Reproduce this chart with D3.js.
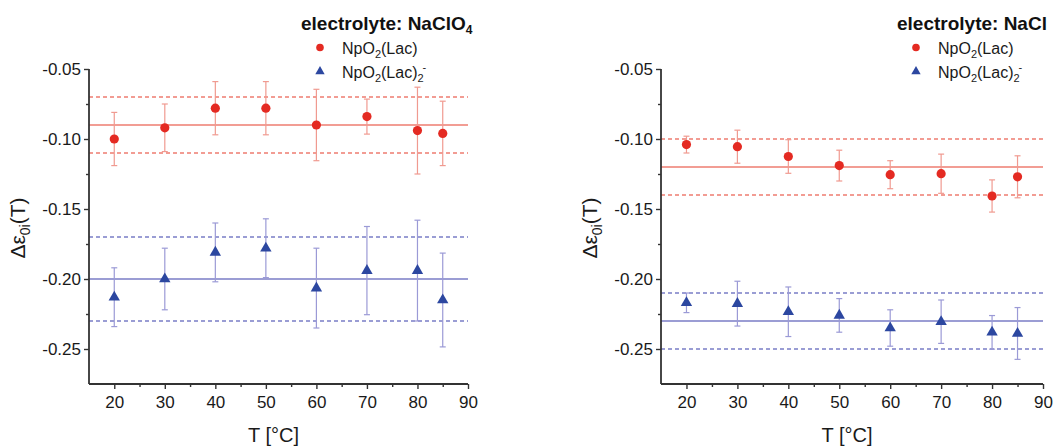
<!DOCTYPE html>
<html>
<head>
<meta charset="utf-8">
<script src="https://cdn.jsdelivr.net/npm/d3@7"></script>
<style>
  body { margin: 0; background: #fff; }
  svg { display: block; font-family: "Liberation Sans", Arial, sans-serif; }
</style>
</head>
<body>
<svg id="chart" width="1058" height="446"></svg>
<script>
// Temperatures (°C) of the measurements
const temperatures = [20, 30, 40, 50, 60, 70, 80, 85];
const xTicks = [20, 30, 40, 50, 60, 70, 80, 90];
const xMinorTicks = [25, 35, 45, 55, 65, 75, 85];
const yTicks = [-0.25, -0.20, -0.15, -0.10, -0.05];
const yMinorTicks = [-0.225, -0.175, -0.125, -0.075];

// electrolyte: NaClO4
const clo4Mono = [-0.100, -0.092, -0.078, -0.078, -0.090, -0.084, -0.094, -0.096];
const clo4MonoErr = [0.019, 0.017, 0.019, 0.019, 0.0255, 0.0125, 0.031, 0.023];
const clo4Bis = [-0.213, -0.200, -0.181, -0.178, -0.2065, -0.194, -0.194, -0.215];
const clo4BisErr = [0.021, 0.022, 0.021, 0.021, 0.0285, 0.0315, 0.036, 0.0335];
const clo4MonoMean = -0.09, clo4MonoBand = 0.02;
const clo4BisMean = -0.20, clo4BisBand = 0.03;

// electrolyte: NaCl
const clMono = [-0.104, -0.1055, -0.1125, -0.119, -0.1255, -0.1248, -0.1407, -0.127];
const clMonoErr = [0.006, 0.0118, 0.012, 0.011, 0.010, 0.014, 0.0115, 0.015];
const clBis = [-0.217, -0.2176, -0.2234, -0.226, -0.235, -0.2305, -0.2381, -0.2389];
const clBisErr = [0.007, 0.016, 0.0177, 0.012, 0.013, 0.0155, 0.012, 0.0185];
const clMonoMean = -0.12, clMonoBand = 0.02;
const clBisMean = -0.23, clBisBand = 0.02;

const xDomain = [15, 90];
const yDomain = [-0.275, -0.05];

const RED = "#e42a22", RED_LINE = "#ee7c70", RED_ERR = "#f09a90";
const BLUE = "#2c47a0", BLUE_LINE = "#7a7dc6", BLUE_ERR = "#9b9ad6";
const AXIS = "#333333";

const svg = d3.select("#chart");

function drawPanel(p) {
  const x = d3.scaleLinear().domain(xDomain).range([p.left, p.right]);
  const y = d3.scaleLinear().domain(yDomain).range([384, 69]);
  const g = svg.append("g");

  // reference lines: mean (solid) and ± band (dashed)
  const refs = [
    { v: p.monoMean, c: RED_LINE, dash: null },
    { v: p.monoMean + p.monoBand, c: RED_LINE, dash: "4,3" },
    { v: p.monoMean - p.monoBand, c: RED_LINE, dash: "4,3" },
    { v: p.bisMean, c: BLUE_LINE, dash: null },
    { v: p.bisMean + p.bisBand, c: BLUE_LINE, dash: "4,3" },
    { v: p.bisMean - p.bisBand, c: BLUE_LINE, dash: "4,3" }
  ];
  g.selectAll("line.ref").data(refs).enter().append("line")
    .attr("x1", x(xDomain[0])).attr("x2", x(xDomain[1]))
    .attr("y1", d => y(d.v)).attr("y2", d => y(d.v))
    .attr("stroke", d => d.c).attr("stroke-width", 1.5)
    .attr("stroke-dasharray", d => d.dash);

  // error bars
  function errBars(vals, errs, color) {
    const d = temperatures.map((t, i) => ({ t, v: vals[i], e: errs[i] }));
    const eg = g.append("g").attr("stroke", color).attr("stroke-width", 1.2);
    eg.selectAll("line.v").data(d).enter().append("line")
      .attr("x1", d => x(d.t)).attr("x2", d => x(d.t))
      .attr("y1", d => y(d.v + d.e)).attr("y2", d => y(d.v - d.e));
    ["+", "-"].forEach(s => {
      eg.selectAll("line.c" + (s === "+" ? "t" : "b")).data(d).enter().append("line")
        .attr("x1", d => x(d.t) - 3).attr("x2", d => x(d.t) + 3)
        .attr("y1", d => y(s === "+" ? d.v + d.e : d.v - d.e))
        .attr("y2", d => y(s === "+" ? d.v + d.e : d.v - d.e));
    });
    return d;
  }
  const mono = errBars(p.mono, p.monoErr, RED_ERR);
  const bis = errBars(p.bis, p.bisErr, BLUE_ERR);

  g.selectAll("circle.pt").data(mono).enter().append("circle")
    .attr("cx", d => x(d.t)).attr("cy", d => y(d.v)).attr("r", 4.6)
    .attr("fill", RED);
  const tri = d3.symbol().type(d3.symbolTriangle).size(56);
  g.selectAll("path.pt").data(bis).enter().append("path")
    .attr("transform", d => `translate(${x(d.t)},${y(d.v)})`)
    .attr("d", tri).attr("fill", BLUE);

  // axes
  const xAxis = g.append("g").attr("transform", "translate(0,384)")
    .call(d3.axisBottom(x).tickValues(xTicks).tickSize(5).tickPadding(7).tickFormat(d3.format("d")));
  g.append("g").attr("transform", "translate(0,384)")
    .call(d3.axisBottom(x).tickValues(xMinorTicks).tickSize(3).tickFormat(""))
    .call(a => a.select(".domain").remove());
  const yAxis = g.append("g").attr("transform", `translate(${p.left},0)`)
    .call(d3.axisLeft(y).tickValues(yTicks).tickSize(5).tickPadding(3).tickFormat(d => d.toFixed(2)));
  g.append("g").attr("transform", `translate(${p.left},0)`)
    .call(d3.axisLeft(y).tickValues(yMinorTicks).tickSize(3).tickFormat(""))
    .call(a => a.select(".domain").remove());
  g.selectAll(".domain").attr("stroke", AXIS).attr("stroke-width", 1.8);
  g.selectAll(".tick line").attr("stroke", AXIS).attr("stroke-width", 1.4);
  g.selectAll(".tick text").attr("fill", "#1a1a1a").style("font-size", "17px")
    .style("font-family", "'Liberation Sans', Arial, sans-serif");
  // keep the axis lines square, without end ticks
  xAxis.select(".domain").attr("d", `M${p.left},0H${p.right}`);
  yAxis.select(".domain").attr("d", `M0,${y(yDomain[1])}V384`);

  // axis titles
  g.append("text").attr("x", (p.left + p.right) / 2 - 5).attr("y", 442)
    .attr("text-anchor", "middle").attr("fill", "#1a1a1a").style("font-size", "20px")
    .text("T [°C]");
  const yt = g.append("text")
    .attr("transform", `translate(${p.left - 64},228) rotate(-90)`)
    .attr("text-anchor", "middle").attr("fill", "#1a1a1a").style("font-size", "21px");
  yt.append("tspan").text("Δε");
  yt.append("tspan").attr("dy", 5).style("font-size", "14px").text("0i");
  yt.append("tspan").attr("dy", -5).text("(T)");

  // legend
  const lg = g.append("g");
  const t = lg.append("text").attr("x", p.legX).attr("y", 30)
    .style("font-size", "19px").style("font-weight", "bold").attr("fill", "#111");
  t.append("tspan").text(p.title);
  if (p.titleSub) t.append("tspan").attr("dy", 4).style("font-size", "12px").text(p.titleSub);

  lg.append("circle").attr("cx", p.legX + 19).attr("cy", 47.5).attr("r", 3.8).attr("fill", RED);
  lg.append("path").attr("transform", `translate(${p.legX + 19},71.5)`)
    .attr("d", d3.symbol().type(d3.symbolTriangle).size(38)).attr("fill", BLUE);

  const l1 = lg.append("text").attr("x", p.legX + 41).attr("y", 53.5)
    .style("font-size", "16px").attr("fill", "#1a1a1a");
  l1.append("tspan").text("NpO");
  l1.append("tspan").attr("dy", 4).style("font-size", "11px").text("2");
  l1.append("tspan").attr("dy", -4).text("(Lac)");

  const l2 = lg.append("text").attr("x", p.legX + 41).attr("y", 77.5)
    .style("font-size", "16px").attr("fill", "#1a1a1a");
  l2.append("tspan").text("NpO");
  l2.append("tspan").attr("dy", 4).style("font-size", "11px").text("2");
  l2.append("tspan").attr("dy", -4).text("(Lac)");
  l2.append("tspan").attr("dy", 4).style("font-size", "11px").text("2");
  l2.append("tspan").attr("dy", -11).attr("dx", -1).style("font-size", "11px").text("-");
}

drawPanel({
  left: 89, right: 468, legX: 301,
  title: "electrolyte: NaClO", titleSub: "4",
  mono: clo4Mono, monoErr: clo4MonoErr, bis: clo4Bis, bisErr: clo4BisErr,
  monoMean: clo4MonoMean, monoBand: clo4MonoBand, bisMean: clo4BisMean, bisBand: clo4BisBand
});
drawPanel({
  left: 661, right: 1043, legX: 897,
  title: "electrolyte: NaCl", titleSub: null,
  mono: clMono, monoErr: clMonoErr, bis: clBis, bisErr: clBisErr,
  monoMean: clMonoMean, monoBand: clMonoBand, bisMean: clBisMean, bisBand: clBisBand
});
</script>
</body>
</html>
